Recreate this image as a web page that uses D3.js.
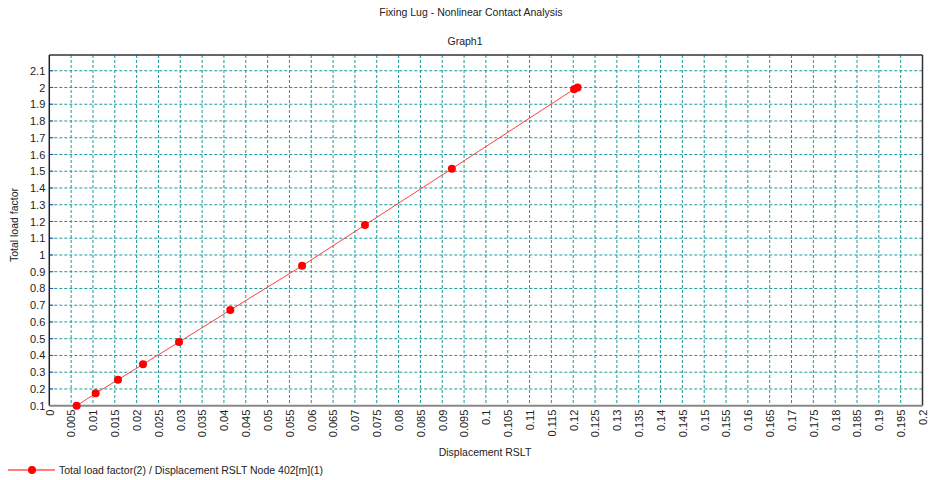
<!DOCTYPE html>
<html>
<head>
<meta charset="utf-8">
<script src="https://cdn.jsdelivr.net/npm/d3@7"></script>
<style>
  body { margin: 0; background: #fff; }
  svg { display: block; font-family: "Liberation Sans", Arial, sans-serif; }
</style>
</head>
<body>
<svg id="chart" width="929" height="480"></svg>
<script>
const title = "Fixing Lug - Nonlinear Contact Analysis";
const subtitle = "Graph1";
const xLabel = "Displacement RSLT";
const yLabel = "Total load factor";
const seriesName = "Total load factor(2) / Displacement RSLT Node 402[m](1)";

const displacement = [0.00627, 0.01062, 0.01573, 0.02146, 0.02971, 0.04146, 0.0579, 0.0723, 0.0922, 0.1202, 0.1210];
const loadFactor   = [0.100,   0.174,   0.255,   0.347,   0.480,   0.671,   0.935,  1.179,  1.515,  1.990,  2.000];

const xTicks = d3.range(0, 41).map(i => +(i * 0.005).toFixed(3));
const yTicks = d3.range(1, 22).map(i => +(i * 0.1).toFixed(1));

const svg = d3.select("#chart");
const L = 49.3, R = 922.5, T = 55, B = 405.7;

const x = d3.scaleLinear().domain([0, 0.2]).range([L, R]);
const y = d3.scaleLinear().domain([0.1, 2.194]).range([B, T]);

const gridColor = "#1a9a9a";

// vertical grid
svg.append("g").selectAll("line").data(xTicks.filter(d => d > 0 && d < 0.2)).join("line")
  .attr("x1", d => x(d)).attr("x2", d => x(d))
  .attr("y1", T).attr("y2", B)
  .attr("stroke", gridColor).attr("stroke-width", 1)
  .attr("stroke-dasharray", "3,2");

// horizontal grid
svg.append("g").selectAll("line").data(yTicks.filter(d => d > 0.1)).join("line")
  .attr("x1", L).attr("x2", R)
  .attr("y1", d => y(d)).attr("y2", d => y(d))
  .attr("stroke", gridColor).attr("stroke-width", 1)
  .attr("stroke-dasharray", "3,2");

// small blue ticks at left
svg.append("g").selectAll("line").data(yTicks.filter(d => d > 0.1)).join("line")
  .attr("x1", L).attr("x2", L + 4)
  .attr("y1", d => y(d)).attr("y2", d => y(d))
  .attr("stroke", "#3050c0").attr("stroke-width", 1);

// frame
svg.append("line").attr("x1", L).attr("x2", R).attr("y1", T).attr("y2", T).attr("stroke", "#333").attr("stroke-width", 1.5);
svg.append("line").attr("x1", L).attr("x2", L).attr("y1", T).attr("y2", B).attr("stroke", "#222").attr("stroke-width", 1.5);
svg.append("line").attr("x1", R).attr("x2", R).attr("y1", T).attr("y2", B).attr("stroke", "#333").attr("stroke-width", 1.5);
svg.append("line").attr("x1", L).attr("x2", R).attr("y1", B).attr("y2", B).attr("stroke", "#888").attr("stroke-width", 2);

// y tick labels
const yAxis = d3.axisLeft(y).tickValues(yTicks).tickSize(0).tickPadding(4).tickFormat(d => d3.format("~g")(d));
const gy = svg.append("g").attr("transform", `translate(${L},0)`).call(yAxis);
gy.select(".domain").remove();
gy.selectAll("text").attr("font-size", 11).attr("fill", "#222").attr("font-family", "Liberation Sans, Arial, sans-serif");

// x tick labels (rotated)
const xAxis = d3.axisBottom(x).tickValues(xTicks).tickSize(0).tickFormat(d => d3.format("~g")(d));
const gx = svg.append("g").attr("transform", `translate(0,${B})`).call(xAxis);
gx.select(".domain").remove();
gx.selectAll("text")
  .attr("font-size", 11).attr("fill", "#222").attr("font-family", "Liberation Sans, Arial, sans-serif")
  .attr("transform", "rotate(-90)")
  .attr("text-anchor", "end")
  .attr("x", -4).attr("y", 0).attr("dy", "0.35em");

// line + markers
const pts = displacement.map((d, i) => [d, loadFactor[i]]);
svg.append("path").datum(pts)
  .attr("fill", "none").attr("stroke", "#ff4040").attr("stroke-width", 1)
  .attr("d", d3.line().x(d => x(d[0])).y(d => y(d[1])));
svg.append("g").selectAll("circle").data(pts).join("circle")
  .attr("cx", d => x(d[0])).attr("cy", d => y(d[1])).attr("r", 4)
  .attr("fill", "#ff0000");

// titles
svg.append("text").attr("x", 471).attr("y", 16).attr("text-anchor", "middle")
  .attr("font-size", 10.5).attr("fill", "#222").text(title);
svg.append("text").attr("x", 465).attr("y", 45).attr("text-anchor", "middle")
  .attr("font-size", 10.5).attr("fill", "#222").text(subtitle);
svg.append("text").attr("x", 485).attr("y", 456).attr("text-anchor", "middle")
  .attr("font-size", 10.5).attr("fill", "#222").text(xLabel);
svg.append("text").attr("transform", "translate(18,225) rotate(-90)").attr("text-anchor", "middle")
  .attr("font-size", 10.5).attr("fill", "#222").text(yLabel);

// legend
svg.append("line").attr("x1", 8).attr("x2", 55).attr("y1", 470).attr("y2", 470).attr("stroke", "#ff0000").attr("stroke-width", 1);
svg.append("circle").attr("cx", 32).attr("cy", 470).attr("r", 4).attr("fill", "#ff0000");
svg.append("text").attr("x", 59).attr("y", 474).attr("font-size", 10.5).attr("fill", "#222").text(seriesName);
</script>
</body>
</html>
